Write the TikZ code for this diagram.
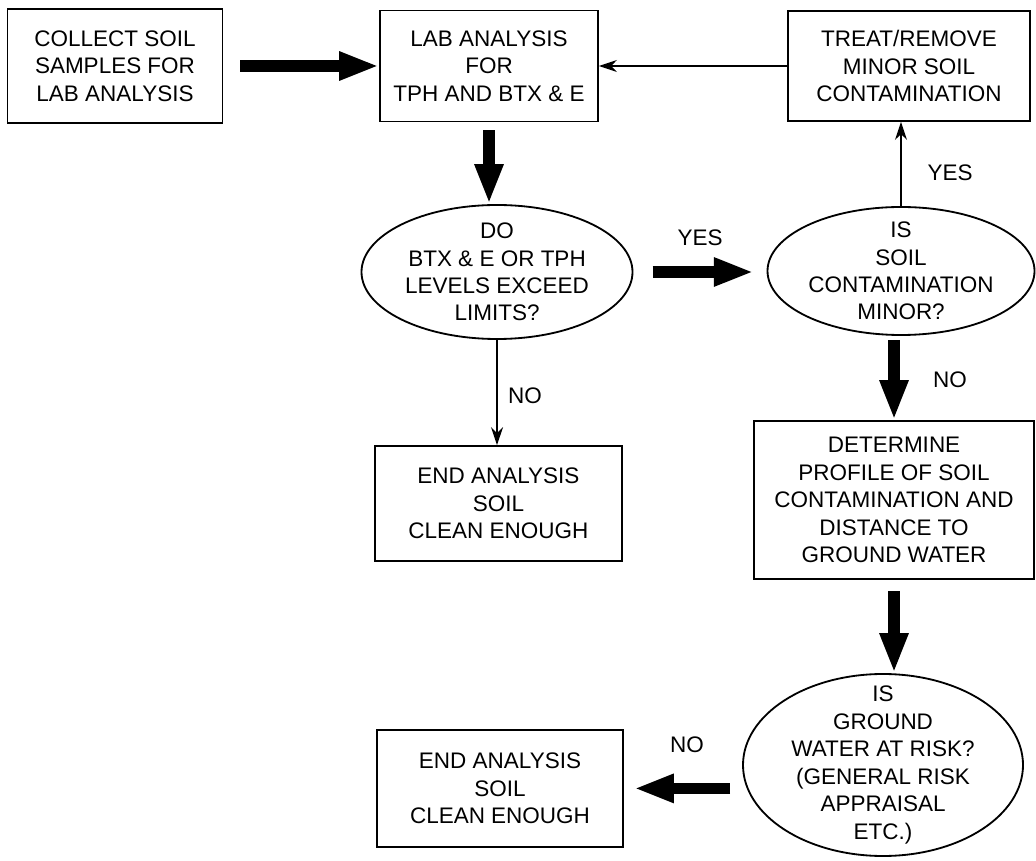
\documentclass[tikz,border=0pt]{standalone}
\usepackage{fontspec}
\setmainfont{Liberation Sans}
\usetikzlibrary{shapes.geometric,arrows.meta}

\tikzset{
    box/.style={draw, line width=1.3pt, align=center, inner sep=0pt,
        font=\fontsize{16}{19.5}\selectfont},
    decision/.style={ellipse, draw, line width=1.3pt, align=center, inner sep=-0.6cm,
        font=\fontsize{16}{19.5}\selectfont},
    bigarrow/.style={line width=0.28cm, -{Triangle[length=1cm,width=0.66cm]}},
    thinarrow/.style={line width=1.1pt, -{Stealth[length=0.45cm,width=0.3cm]}},
    lbl/.style={font=\fontsize{16}{19}\selectfont}
}

\begin{document}
\begin{tikzpicture}[scale=1.0]

\useasboundingbox (0,0) rectangle (25.9,21.5);

% top row
\node[box, minimum width=5.375cm, minimum height=2.85cm] (collect) at (2.875,19.85)
    {COLLECT SOIL\\SAMPLES FOR\\LAB ANALYSIS};
\node[box, minimum width=5.45cm, minimum height=2.775cm] (lab) at (12.225,19.85)
    {LAB ANALYSIS\\FOR\\TPH AND BTX \& E};
\node[box, minimum width=6.05cm, minimum height=2.75cm] (treat) at (22.725,19.85)
    {TREAT/REMOVE\\MINOR SOIL\\CONTAMINATION};

% questions
\node[decision, minimum width=6.775cm, minimum height=3.35cm] (exceed) at (12.425,14.7)
    {DO\\BTX \& E OR TPH\\LEVELS EXCEED\\LIMITS?};
\node[decision, minimum width=6.675cm, minimum height=3.2cm] (minor) at (22.525,14.725)
    {IS\\SOIL\\CONTAMINATION\\MINOR?};

% middle row
\node[box, minimum width=6.175cm, minimum height=2.875cm] (clean) at (12.46,8.91)
    {END ANALYSIS\\SOIL\\CLEAN ENOUGH};
\node[box, minimum width=7.0cm, minimum height=3.95cm] (profile) at (22.35,9.0)
    {DETERMINE\\PROFILE OF SOIL\\CONTAMINATION AND\\DISTANCE TO\\GROUND WATER};

% bottom row
\node[decision, minimum width=7.0cm, minimum height=4.55cm] (risk) at (22.075,2.375)
    {IS\\GROUND\\WATER AT RISK?\\(GENERAL RISK\\APPRAISAL\\ETC.)};
\node[box, minimum width=6.15cm, minimum height=2.925cm] (cleanb) at (12.5,1.79)
    {END ANALYSIS\\SOIL\\CLEAN ENOUGH};

% arrows
\draw[bigarrow, shorten <=0.42cm] (collect.east) -- (lab.west);
\draw[bigarrow, shorten <=0.2cm] (lab.south) -- (lab.south |- exceed.north);
\draw[bigarrow, shorten <=0.48cm, shorten >=0.32cm] (exceed.east) -- (exceed.east -| minor.west);
\draw[thinarrow] (minor.north) -- (minor.north |- treat.south);
\draw[thinarrow] (treat.west) -- (lab.east);
\draw[thinarrow] (exceed.south) -- (exceed.south |- clean.north);
\draw[bigarrow, shorten <=0.1cm] (minor.south -| profile.north) -- (profile.north);
\draw[bigarrow, shorten <=0.28cm] (profile.south) -- (profile.south |- risk.north);
\draw[bigarrow, shorten <=0.3cm, shorten >=0.25cm] (cleanb.east -| risk.west) -- (cleanb.east);

% labels
\node[lbl] (yesa) at (17.5,15.55) {YES};
\node[lbl] (yesb) at (23.75,17.175) {YES};
\node[lbl] (noa) at (13.125,11.6) {NO};
\node[lbl] (nob) at (23.75,12.0) {NO};
\node[lbl] (noc) at (17.175,2.875) {NO};

\end{tikzpicture}
\end{document}
